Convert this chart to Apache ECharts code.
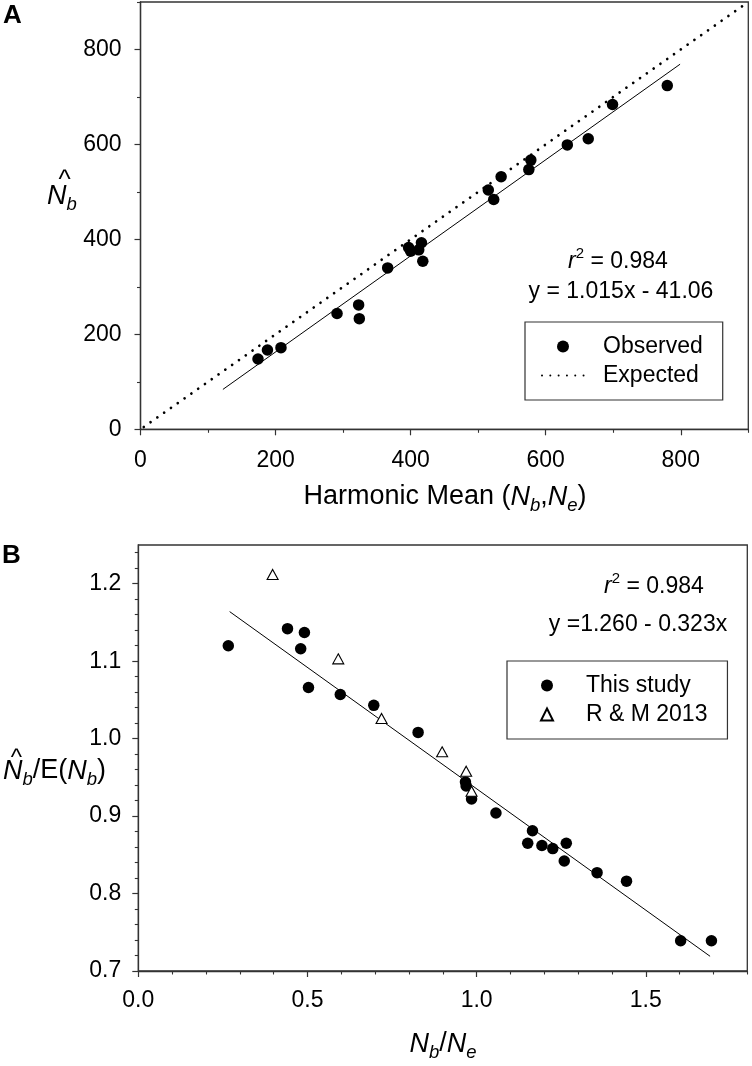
<!DOCTYPE html>
<html>
<head>
<meta charset="utf-8">
<script src="https://cdn.jsdelivr.net/npm/echarts@6/dist/echarts.min.js"></script>
<style>
html,body{margin:0;padding:0;background:#fff;}
#chart{width:752px;height:1066px;}
</style>
</head>
<body>
<div id="chart"></div>
<script>
// ---------- Panel A data ----------
const observedA = [[174,148],[188,167],[208,172],[291,244],[323,262],[324,233],[366,340],[397,383],[400,375],[412,378],[416,393],[418,354],[515,504],[523,484],[534,532],[575,547],[578,567],[632,599],[663,612],[699,684],[780,724]];
const fitLineA = [[122,84],[799,769]];
const expectedA = [[0,0],[900,900]];
const xMajorA = [0,200,400,600,800];
const xMinorA = [100,300,500,700,900];
const yMajorA = [0,200,400,600,800];
const yMinorA = [100,300,500,700,900];

// ---------- Panel B data ----------
const thisStudyB = [[0.266,1.120],[0.441,1.142],[0.491,1.137],[0.480,1.116],[0.503,1.066],[0.597,1.057],[0.696,1.043],[0.827,1.008],[0.967,0.944],[0.969,0.939],[0.985,0.922],[1.057,0.904],[1.165,0.881],[1.151,0.865],[1.193,0.862],[1.225,0.858],[1.265,0.865],[1.259,0.842],[1.356,0.827],[1.443,0.816],[1.603,0.739],[1.694,0.739]];
const rm2013B = [[0.397,1.212],[0.591,1.103],[0.719,1.026],[0.898,0.983],[0.969,0.958],[0.985,0.932]];
const fitLineB = [[0.27,1.164],[1.69,0.719]];
const xMajorB = [0.0,0.5,1.0,1.5];
const xMinorB = [0.1,0.2,0.3,0.4,0.6,0.7,0.8,0.9,1.1,1.2,1.3,1.4,1.6,1.7,1.8];
const yMajorB = [0.7,0.8,0.9,1.0,1.1,1.2];
const yMinorB = [0.72,0.74,0.76,0.78,0.82,0.84,0.86,0.88,0.92,0.94,0.96,0.98,1.02,1.04,1.06,1.08,1.12,1.14,1.16,1.18,1.22,1.24];

const F = "'Liberation Sans', Arial, Helvetica, sans-serif";
const AX = '#333';
const TICK_FS = 23;

function mainAxis(grid, min, max, majors, fmt, margin, pos) {
  return {
    gridIndex: grid, type: 'value', min: min, max: max, position: pos,
    axisLine: {show: true, onZero: false, lineStyle: {color: AX, width: 1.3}},
    axisTick: {show: true, customValues: majors, length: 6, lineStyle: {color: AX, width: 1.2}},
    axisLabel: {show: true, customValues: majors, formatter: fmt, fontSize: TICK_FS, fontFamily: F, color: '#000', margin: margin},
    splitLine: {show: false}
  };
}
function minorAxis(grid, min, max, minors, pos) {
  return {
    gridIndex: grid, type: 'value', min: min, max: max, position: pos,
    axisLine: {show: false, onZero: false},
    axisTick: {show: true, customValues: minors, length: 3.5, lineStyle: {color: AX, width: 1.1}},
    axisLabel: {show: false},
    splitLine: {show: false}
  };
}
const intFmt = v => String(Math.round(v));
const decFmt = v => Number(v).toFixed(1);

const mainRich = {
  m: {fontSize: 27, fontFamily: F, color: '#000', lineHeight: 40, verticalAlign: 'middle'},
  n: {fontSize: 27, fontFamily: F, fontStyle: 'italic', color: '#000', lineHeight: 40, verticalAlign: 'middle'},
  s: {fontSize: 18.5, fontFamily: F, fontStyle: 'italic', color: '#000', lineHeight: 18, verticalAlign: 'bottom', padding: [0,0,2,0]}
};
const annRich = {
  m: {fontSize: 23, fontFamily: F, color: '#000', lineHeight: 31, verticalAlign: 'middle'},
  i: {fontSize: 23, fontFamily: F, fontStyle: 'italic', color: '#000', lineHeight: 31, verticalAlign: 'middle'},
  p: {fontSize: 15, fontFamily: F, color: '#000', lineHeight: 15, verticalAlign: 'top'}
};
function txt(x, y, text, rich, align) {
  return {type: 'text', x: x, y: y, z: 100,
    style: {text: text, rich: rich, align: align || 'center', verticalAlign: 'middle', fill: '#000', fontFamily: F}};
}
function plain(x, y, text, size, weight, align) {
  return {type: 'text', x: x, y: y, z: 100,
    style: {text: text, fontSize: size, fontWeight: weight || 'normal', fontFamily: F, fill: '#000', align: align || 'center', verticalAlign: 'middle'}};
}

const legendBase = {
  orient: 'vertical', selectedMode: false, itemHeight: 12, itemGap: 6,
  borderColor: AX, borderWidth: 1.2, backgroundColor: '#fff', symbolKeepAspect: true
};

const option = {
  animation: false,
  backgroundColor: '#fff',
  grid: [
    {left: 140.5, top: 2, width: 607.8, height: 427.3, show: true, borderColor: AX, borderWidth: 1.3, containLabel: false},
    {left: 138.3, top: 545, width: 609, height: 426, show: true, borderColor: AX, borderWidth: 1.3, containLabel: false}
  ],
  xAxis: [
    mainAxis(0, 0, 900, xMajorA, intFmt, 20, 'bottom'),
    minorAxis(0, 0, 900, xMinorA, 'bottom'),
    mainAxis(1, 0, 1.8, xMajorB, decFmt, 18, 'bottom'),
    minorAxis(1, 0, 1.8, xMinorB, 'bottom')
  ],
  yAxis: [
    mainAxis(0, 0, 900, yMajorA, intFmt, 19, 'left'),
    minorAxis(0, 0, 900, yMinorA, 'left'),
    mainAxis(1, 0.7, 1.25, yMajorB, decFmt, 17, 'left'),
    minorAxis(1, 0.7, 1.25, yMinorB, 'left')
  ],
  legend: [
    Object.assign({}, legendBase, {
      data: [{name: 'Observed'}, {name: 'Expected', itemStyle: {opacity: 0}}],
      left: 525, top: 322, padding: [13, 20, 13, 12], itemWidth: 50,
      textStyle: {fontSize: 23, fontFamily: F, color: '#000', padding: [0, 0, 0, 10]}
    }),
    Object.assign({}, legendBase, {
      data: ['This study', 'R & M 2013'],
      left: 507, top: 661, padding: [13, 20, 13, 33], itemWidth: 12,
      textStyle: {fontSize: 23, fontFamily: F, color: '#000', padding: [0, 0, 0, 28]}
    })
  ],
  series: [
    {type: 'line', name: 'Expected', xAxisIndex: 0, yAxisIndex: 0, data: expectedA, symbol: 'none', silent: true,
      itemStyle: {color: '#000'},
      lineStyle: {color: '#000', width: 2.7, type: [0.01, 8.3], cap: 'round', dashOffset: -4}, z: 2},
    {type: 'line', name: 'FitA', xAxisIndex: 0, yAxisIndex: 0, data: fitLineA, symbol: 'none', silent: true,
      lineStyle: {color: '#000', width: 1}, z: 3},
    {type: 'scatter', name: 'Observed', xAxisIndex: 0, yAxisIndex: 0, data: observedA, symbol: 'circle', symbolSize: 11.5,
      itemStyle: {color: '#000', opacity: 1}, z: 5},
    {type: 'line', name: 'FitB', xAxisIndex: 2, yAxisIndex: 2, data: fitLineB, symbol: 'none', silent: true,
      lineStyle: {color: '#000', width: 1}, z: 3},
    {type: 'scatter', name: 'This study', xAxisIndex: 2, yAxisIndex: 2, data: thisStudyB, symbol: 'circle', symbolSize: 11.5,
      itemStyle: {color: '#000', opacity: 1}, z: 5},
    {type: 'scatter', name: 'R & M 2013', xAxisIndex: 2, yAxisIndex: 2, data: rm2013B, symbol: 'triangle', symbolSize: [11, 10],
      itemStyle: {color: '#fff', borderColor: '#000', borderWidth: 1.1, opacity: 1}, z: 6}
  ],
  graphic: [
    plain(3, 16, 'A', 26, 'bold', 'left'),
    plain(2, 556, 'B', 26, 'bold', 'left'),
    // Panel A titles
    txt(445, 497, '{m|Harmonic Mean (}{n|N}{s|b}{m|,}{n|N}{s|e}{m|)}', mainRich),
    txt(62, 196, '{n|N}{s|b}', mainRich),
    plain(64.5, 181, '^', 26),
    // Panel A annotations
    txt(618, 262, '{i|r}{p|2}{m| = 0.984}', annRich),
    txt(621, 292, '{m|y = 1.015x - 41.06}', annRich),
    // Panel B titles
    txt(443, 1044, '{n|N}{s|b}{m|/}{n|N}{s|e}', mainRich),
    txt(3, 771, '{n|N}{s|b}{m|/E(}{n|N}{s|b}{m|)}', mainRich, 'left'),
    plain(16.5, 758, '^', 24),
    // Panel B annotations
    txt(654, 587, '{i|r}{p|2}{m| = 0.984}', annRich),
    txt(638, 625, '{m|y =1.260 - 0.323x}', annRich)
  ]
};

const chart = echarts.init(document.getElementById('chart'), null, {renderer: 'canvas'});
chart.setOption(option);
</script>
</body>
</html>
